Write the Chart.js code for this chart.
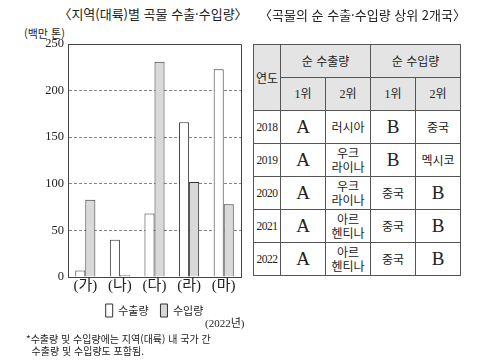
<!DOCTYPE html>
<html lang="ko">
<head>
<meta charset="utf-8">
<script src="https://cdn.jsdelivr.net/npm/chart.js@4/dist/chart.umd.min.js"></script>
<style>
  body { margin: 0; background: #fff; width: 485px; height: 362px; position: relative; overflow: hidden;
         font-family: "Noto Sans CJK KR", sans-serif; color: #222; }
  .abs { position: absolute; white-space: nowrap; }
  #chartTitle { left: 0; width: 306px; top: 4px; text-align: center; font-size: 13px; }
  #unit { left: 24px; top: 25px; font-size: 11px; }
  #yearNote { left: 205px; top: 314px; font-size: 11px; font-family: "Liberation Serif", "Noto Sans CJK KR", serif; }
  #note { left: 26px; top: 333px; font-size: 10px; line-height: 12px; }
  #tableTitle { left: 240px; width: 245px; top: 5px; text-align: center; font-size: 13px; }
  #rank { position: absolute; left: 253px; top: 44px; border-collapse: collapse; table-layout: fixed; }
  #rank td, #rank th { border: 1px solid #555; text-align: center; padding: 0; font-weight: normal;
                       font-size: 12px; line-height: 14px; }
  #rank th { background: #e4e4e4; height: 32px; }
  #rank td { height: 32px; }
  .serif { font-family: "Liberation Serif", "Noto Sans CJK KR", serif; }
  .big { font-size: 19px !important; }
  .yr { font-size: 11.5px !important; letter-spacing: -0.5px; }
</style>
</head>
<body>
<div class="abs" id="chartTitle">〈지역(대륙)별 곡물 수출·수입량〉</div>
<div class="abs" id="unit">(백만 톤)</div>
<canvas id="grafico" width="250" height="327" style="position:absolute;left:0;top:0;"></canvas>
<div class="abs" id="yearNote">(2022년)</div>
<div class="abs" id="note">*수출량 및 수입량에는 지역(대륙) 내 국가 간<br>&nbsp;&nbsp;수출량 및 수입량도 포함됨.</div>

<div class="abs" id="tableTitle">〈곡물의 순 수출·수입량 상위 2개국〉</div>
<table id="rank">
  <colgroup><col style="width:27px"><col style="width:45px"><col style="width:45px"><col style="width:45px"><col style="width:45px"></colgroup>
  <thead>
    <tr><th rowspan="2">연도</th><th colspan="2">순 수출량</th><th colspan="2">순 수입량</th></tr>
    <tr><th class="serif">1위</th><th class="serif">2위</th><th class="serif">1위</th><th class="serif">2위</th></tr>
  </thead>
  <tbody id="rankBody"></tbody>
</table>

<script>
const categorias = ["(가)", "(나)", "(다)", "(라)", "(마)"];
const exportaciones = [7, 40, 68, 166, 223];
const importaciones = [83, 2, 231, 102, 78];
const ticksY = [0, 50, 100, 150, 200, 250];

const anios = ["2018", "2019", "2020", "2021", "2022"];
const export1 = ["A", "A", "A", "A", "A"];
const export2 = ["러시아", "우크\n라이나", "우크\n라이나", "아르\n헨티나", "아르\n헨티나"];
const import1 = ["B", "B", "중국", "중국", "중국"];
const import2 = ["중국", "멕시코", "B", "B", "B"];

// tabla
let tbody = document.getElementById("rankBody");
function celda(txt) {
    let td = document.createElement("td");
    if (txt === "A" || txt === "B") {
        td.className = "serif big";
        td.textContent = txt;
    } else {
        td.innerHTML = txt.replace("\n", "<br>");
    }
    return td;
}
for (let i = 0; i < anios.length; i++) {
    let tr = document.createElement("tr");
    let tdAnio = document.createElement("td");
    tdAnio.className = "serif yr";
    tdAnio.textContent = anios[i];
    tr.appendChild(tdAnio);
    tr.appendChild(celda(export1[i]));
    tr.appendChild(celda(export2[i]));
    tr.appendChild(celda(import1[i]));
    tr.appendChild(celda(import2[i]));
    tbody.appendChild(tr);
}

// marco del area del grafico
const marco = {
    id: "marco",
    afterDraw(chart) {
        const a = chart.chartArea;
        const ctx = chart.ctx;
        ctx.save();
        ctx.strokeStyle = "#444";
        ctx.lineWidth = 1;
        ctx.beginPath();
        ctx.moveTo(Math.round(a.left) + 0.5, Math.round(a.top) + 0.5);
        ctx.lineTo(Math.round(a.right) + 0.5, Math.round(a.top) + 0.5);
        ctx.lineTo(Math.round(a.right) + 0.5, Math.round(a.bottom) + 0.5);
        ctx.stroke();
        ctx.restore();
    }
};

const serif = "'Liberation Serif', 'Noto Sans CJK KR', serif";

new Chart(document.getElementById("grafico").getContext("2d"), {
    type: "bar",
    data: {
        labels: categorias,
        datasets: [{
            label: "수출량",
            data: exportaciones,
            backgroundColor: "#ffffff",
            borderColor: "#333",
            borderWidth: 1
        }, {
            label: "수입량",
            data: importaciones,
            backgroundColor: "#d9d9d9",
            borderColor: "#333",
            borderWidth: 1
        }]
    },
    options: {
        responsive: false,
        animation: false,
        categoryPercentage: 0.58,
        barPercentage: 1,
        layout: { padding: { top: 44, right: 9, left: 0, bottom: 0 } },
        plugins: {
            tooltip: { enabled: false },
            legend: {
                position: "bottom",
                fullSize: false,
                labels: {
                    color: "#222",
                    font: { family: "'Noto Sans CJK KR', sans-serif", size: 11 },
                    boxWidth: 7,
                    boxHeight: 13,
                    padding: 7,
                    generateLabels: chart => {
                        let items = Chart.defaults.plugins.legend.labels.generateLabels(chart);
                        items.forEach((it, i) => { if (i < items.length - 1) it.text += "  "; });
                        return items;
                    }
                }
            }
        },
        scales: {
            x: {
                grid: { display: false, drawTicks: false },
                border: { display: true, color: "#444" },
                ticks: { color: "#222", padding: 0, font: { family: serif, size: 15 } },
                afterFit: s => { s.height = 20; }
            },
            y: {
                min: 0,
                max: 250,
                afterBuildTicks: s => { s.ticks = ticksY.map(v => ({ value: v })); },
                grid: {
                    drawTicks: false,
                    color: c => (c.tick && c.tick.value > 0 && c.tick.value < 250) ? "#888" : "rgba(0,0,0,0)"
                },
                border: { display: true, color: "#444", dash: [3, 2] },
                ticks: { color: "#222", padding: 4, font: { family: serif, size: 12.5 } },
                afterFit: s => { s.width = 68; }
            }
        }
    },
    plugins: [marco]
});
</script>
</body>
</html>
